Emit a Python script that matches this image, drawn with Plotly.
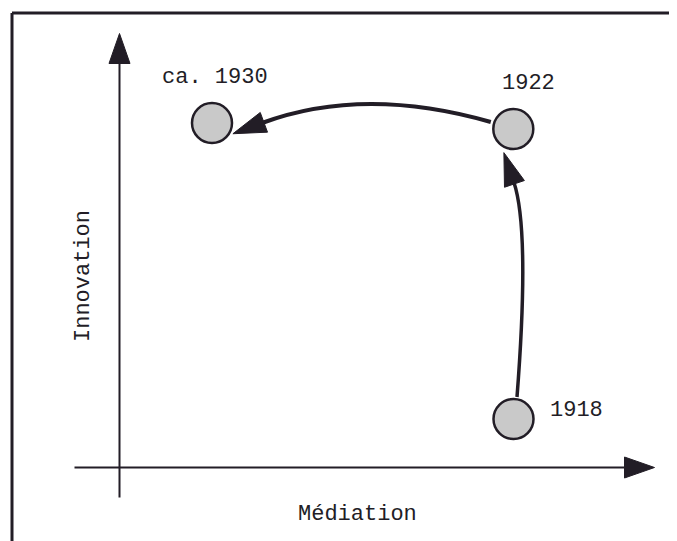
import numpy as np
import plotly.graph_objects as go

# ---- data ----
labels = ["1918", "1922", "ca. 1930"]
mediation = [7.88, 7.876, 1.85]
innovation = [0.97, 6.77, 6.89]
x_title = "Médiation"
y_title = "Innovation"

# ---- styling / layout constants ----
PAGE_MARGIN = 8  # default body margin of the html page
W, H = 677 - PAGE_MARGIN, 541 - PAGE_MARGIN
PX = 50.0  # pixels per data unit (same on both axes)
ORIGIN_PX = (119.5 - PAGE_MARGIN, 467.5 - PAGE_MARGIN)
INK = "#221d26"
FILL = "#c9c9c9"
FONT = "Liberation Mono"
FS = 22

x_range = [-ORIGIN_PX[0] / PX, (W - ORIGIN_PX[0]) / PX]
y_range = [-(H - ORIGIN_PX[1]) / PX, ORIGIN_PX[1] / PX]

pts = {lab: np.array([mx, iy]) for lab, mx, iy in zip(labels, mediation, innovation)}

fig = go.Figure()
fig.add_trace(go.Scatter(
    x=mediation, y=innovation, mode="markers",
    marker=dict(size=40, color=FILL, line=dict(color=INK, width=2.5)),
    hoverinfo="skip", showlegend=False,
))

shapes = []


def head(tip, d, L=0.6, Wd=0.21):
    d = d / np.linalg.norm(d)
    n = np.array([-d[1], d[0]])
    base = tip - L * d
    a = base + Wd * n
    b = base - Wd * n
    return dict(type="path", xref="x", yref="y", layer="above",
                path=f"M {tip[0]},{tip[1]} L {a[0]},{a[1]} L {b[0]},{b[1]} Z",
                fillcolor=INK, line=dict(color=INK, width=1))


# axes
x_start, x_tip = -0.9, 10.7
y_start, y_tip = -0.6, 8.68
shapes.append(dict(type="line", xref="x", yref="y", x0=x_start, y0=0, x1=x_tip - 0.5, y1=0,
                   line=dict(color=INK, width=2)))
shapes.append(head(np.array([x_tip, 0.0]), np.array([1.0, 0.0]), L=0.6, Wd=0.21))
shapes.append(dict(type="line", xref="x", yref="y", x0=0, y0=y_start, x1=0, y1=y_tip - 0.5,
                   line=dict(color=INK, width=2)))
shapes.append(head(np.array([0.0, y_tip]), np.array([0.0, 1.0]), L=0.6, Wd=0.21))

# curved arrows between stages
arrows = [
    # from, to, start offset, end offset (from target), control point, line width
    ("1918", "1922", np.array([0.07, 0.44]), np.array([0.01, -1.06]), np.array([8.21, 4.75]), 3.5),
    ("1922", "ca. 1930", np.array([-0.45, 0.14]), np.array([1.0, 0.0]), np.array([4.88, 7.64]), 4.0),
]
for a, b, so, eo, c, lw in arrows:
    p0 = pts[a] + so
    p2 = pts[b] + eo
    shapes.append(dict(type="path", xref="x", yref="y", layer="below",
                       path=f"M {p0[0]},{p0[1]} Q {c[0]},{c[1]} {p2[0]},{p2[1]}",
                       line=dict(color=INK, width=lw)))
    d = p2 - c
    d = d / np.linalg.norm(d)
    shapes.append(head(p2 + 0.62 * d, d, L=0.66, Wd=0.21))

# frame (left and top edges)
fx, fy = (12 - PAGE_MARGIN) / W, 1 - (13 - PAGE_MARGIN) / H
shapes.append(dict(type="line", xref="paper", yref="paper", x0=fx, y0=0, x1=fx, y1=fy,
                   line=dict(color=INK, width=3)))
shapes.append(dict(type="line", xref="paper", yref="paper", x0=fx, y0=fy, x1=1, y1=fy,
                   line=dict(color=INK, width=3)))

label_offsets = {"1918": (1.25, 0.18), "1922": (0.3, 0.92), "ca. 1930": (0.06, 0.92)}
annotations = []
for lab in labels:
    ox, oy = label_offsets[lab]
    annotations.append(dict(x=pts[lab][0] + ox, y=pts[lab][1] + oy, xref="x", yref="y",
                            text=lab, showarrow=False,
                            font=dict(family=FONT, size=FS, color=INK)))
annotations.append(dict(x=4.75, y=-0.93, xref="x", yref="y", text=x_title, showarrow=False,
                        font=dict(family=FONT, size=FS, color=INK)))
annotations.append(dict(x=-0.73, y=3.83, xref="x", yref="y", text=y_title, showarrow=False,
                        textangle=-90, font=dict(family=FONT, size=FS, color=INK)))

fig.update_layout(
    width=W, height=H, margin=dict(l=0, r=0, t=0, b=0),
    paper_bgcolor="white", plot_bgcolor="white",
    xaxis=dict(range=x_range, visible=False, fixedrange=True),
    yaxis=dict(range=y_range, visible=False, fixedrange=True),
    shapes=shapes, annotations=annotations, showlegend=False,
)

fig.write_html("out.html")
